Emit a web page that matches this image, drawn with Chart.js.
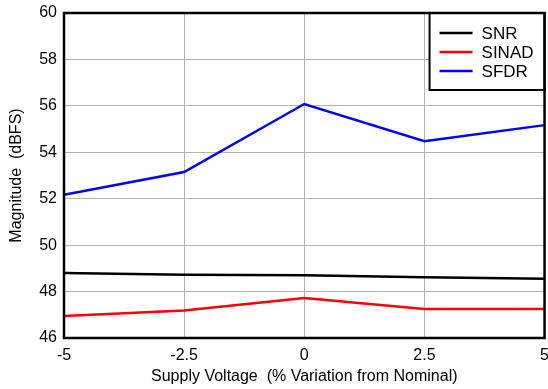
<!DOCTYPE html>
<html>
<head>
<meta charset="utf-8">
<script src="https://cdn.jsdelivr.net/npm/chart.js@4"></script>
<style>
  html, body { margin: 0; padding: 0; background: #fff; overflow: hidden; }
  #wrap { width: 557px; height: 389px; }
</style>
</head>
<body>
<div id="wrap"><canvas id="chart"></canvas></div>
<script>
// supply voltage (% variation from nominal)
var xValues = [-5, -2.5, 0, 2.5, 5];
var snr = [48.8, 48.72, 48.7, 48.62, 48.55];
var sinad = [46.95, 47.18, 47.72, 47.25, 47.25];
var sfdr = [52.17, 53.15, 56.08, 54.48, 55.17];

var seriesNames = ['SNR', 'SINAD', 'SFDR'];
var seriesColors = ['#000000', '#ff0000', '#0000ff'];
var seriesValues = [snr, sinad, sfdr];

var datasets = seriesNames.map(function (name, i) {
    return {
        label: name,
        data: xValues.map(function (x, j) { return { x: x, y: seriesValues[i][j] }; }),
        borderColor: seriesColors[i],
        backgroundColor: seriesColors[i],
        borderWidth: 2.5,
        pointRadius: 0,
        tension: 0
    };
});

// frame around plot + boxed legend in upper right corner
const framePlugin = {
    id: 'frame',
    afterDatasetsDraw(chart) {
        const c = chart.ctx;
        const a = chart.chartArea;
        c.save();
        // legend box
        const bw = 115, bh = 77;
        const bx = a.right - bw, by = a.top;
        c.fillStyle = '#fff';
        c.fillRect(bx, by, bw, bh);
        c.strokeStyle = '#000';
        c.lineWidth = 2;
        c.strokeRect(bx, by, bw, bh);
        c.font = '17px "Liberation Sans", Arial, sans-serif';
        c.textBaseline = 'middle';
        chart.data.datasets.forEach(function (ds, i) {
            const y = by + 20 + i * 19;
            c.strokeStyle = ds.borderColor;
            c.lineWidth = 2.5;
            c.beginPath();
            c.moveTo(bx + 10, y);
            c.lineTo(bx + 43, y);
            c.stroke();
            c.fillStyle = '#000';
            c.fillText(ds.label, bx + 52, y + 1);
        });
        // plot frame
        c.strokeStyle = '#000';
        c.lineWidth = 2.5;
        c.strokeRect(a.left, a.top, a.right - a.left, a.bottom - a.top);
        c.restore();
    }
};

Chart.defaults.font.family = '"Liberation Sans", Arial, sans-serif';
Chart.defaults.color = '#000';

new Chart(document.getElementById('chart'), {
    type: 'line',
    data: { datasets: datasets },
    options: {
        responsive: true,
        maintainAspectRatio: false,
        animation: false,
        layout: { padding: { top: 0, left: 7, right: 0, bottom: 3 } },
        plugins: {
            legend: { display: false },
            tooltip: { enabled: false }
        },
        scales: {
            x: {
                type: 'linear',
                min: -5,
                max: 5,
                afterFit: function (scale) { scale.height = 48; },
                ticks: { stepSize: 2.5, font: { size: 16 }, padding: 8, maxRotation: 0 },
                grid: { color: '#b4b4b4', lineWidth: 1, drawTicks: false },
                border: { display: false },
                title: { display: true, text: 'Supply Voltage  (% Variation from Nominal)', font: { size: 16 }, padding: { top: 0, bottom: 0 } }
            },
            y: {
                min: 46,
                max: 60,
                afterFit: function (scale) { scale.paddingTop = 13; },
                ticks: { stepSize: 2, font: { size: 16 }, padding: 7 },
                grid: { color: '#b4b4b4', lineWidth: 1, drawTicks: false },
                border: { display: false },
                title: { display: true, text: 'Magnitude  (dBFS)', font: { size: 16 }, padding: { top: 0, bottom: 6 } }
            }
        }
    },
    plugins: [framePlugin]
});
</script>
</body>
</html>
